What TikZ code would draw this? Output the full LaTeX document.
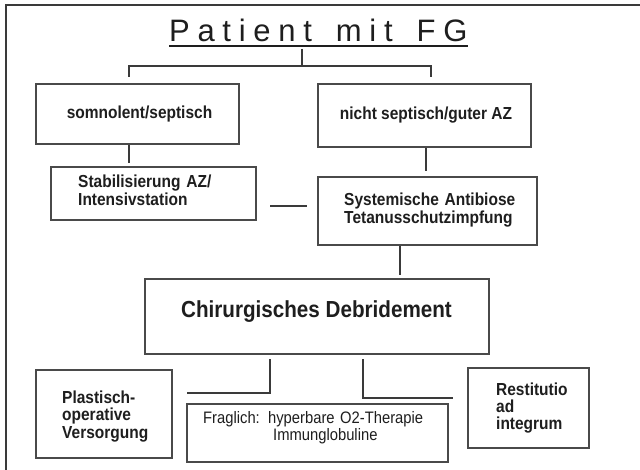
\documentclass[tikz,border=0pt]{standalone}
\usepackage{fontspec}
\setmainfont{Liberation Sans}
\newfontfamily\nfont[FakeStretch=0.89]{Liberation Sans}
\definecolor{ln}{HTML}{3A3A3A}
\definecolor{bx}{HTML}{4A4A4A}
\definecolor{tx}{HTML}{1E1E1E}
\newcommand\tsp{\kern7.7pt}
\begin{document}
\begin{tikzpicture}[x=1pt,y=-1pt,
  box/.style={draw=bx,line width=1.6pt,inner sep=0pt},
  conn/.style={draw=ln,line width=1.4pt},
  txt/.style={text=tx,font=\nfont\bfseries\fontsize{17.4}{17.5}\selectfont,inner sep=0pt},
  mtxt/.style={txt,text width=300pt,align=left,anchor=base west},
  ]
\useasboundingbox (0,0) rectangle (640,470);
\fill[white] (0,0) rectangle (640,470);
\draw[line width=1.5pt,draw=ln] (640,5) -- (6,5) -- (6,470);

% title
\node[anchor=base west,inner sep=0pt,text=tx,font=\fontsize{31}{31}\selectfont] (title) at (169,42)
  {P\tsp a\tsp t\tsp i\tsp e\tsp n\tsp t\tsp{} \tsp m\tsp i\tsp t\tsp{} \tsp F\tsp G};
\draw[line width=2.6pt,draw=tx] ([yshift=-4pt]title.base west) -- ([yshift=-4pt]title.base east);

% boxes
\node[box,minimum width=203pt,minimum height=60pt] (som) at (137.5,114) {};
\node[txt,anchor=base] (somt) at (139.5,119) {somnolent/septisch};

\node[box,minimum width=213pt,minimum height=63pt] (nicht) at (424.5,115.5) {};
\node[txt,anchor=base] (nichtt) at (426,120) {nicht septisch/guter AZ};

\node[box,minimum width=205pt,minimum height=53pt] (stab) at (153.5,193.5) {};
\node[mtxt] (stabt) at (78,188) {Stabilisierung AZ/\\Intensivstation};

\node[box,minimum width=219pt,minimum height=68pt] (sys) at (427.5,211) {};
\node[mtxt] (syst) at (344,206) {Systemische Antibiose\\Tetanusschutzimpfung};

\node[box,minimum width=344pt,minimum height=75pt] (chir) at (317,316.5) {};
\node[txt,anchor=base,font=\nfont\bfseries\fontsize{23.2}{24}\selectfont] (chirt) at (316.5,318) {Chirurgisches Debridement};

\node[box,minimum width=136pt,minimum height=88pt] (plast) at (104,414) {};
\node[mtxt] (plastt) at (62,403) {Plastisch-\\operative\\Versorgung};

\node[box,minimum width=261pt,minimum height=58pt] (frag) at (317.5,433) {};
\node[mtxt,font=\nfont\fontsize{16.6}{17}\selectfont] (fragt) at (203,423) {Fraglich: hyperbare O2-Therapie\\\hspace*{70pt}Immunglobuline};

\node[box,minimum width=121pt,minimum height=80pt] (rest) at (528.5,408) {};
\node[mtxt] (restt) at (496,395) {Restitutio\\ad\\integrum};

% connectors
\coordinate (t1) at (302,49);
\coordinate (t2) at (302,66);
\coordinate (l1) at (129,66);
\coordinate (l2) at (129,77);
\coordinate (r1) at (431,66);
\coordinate (r2) at (431,77);
\draw[conn] (t1) -- (t2);
\draw[conn] (l2) -- (l1) -- (r1) -- (r2);

\coordinate (a1) at (129,163);
\draw[conn] (som.south -| a1) -- (a1);
\coordinate (b1) at (426,171);
\draw[conn] (nicht.south -| b1) -- (b1);

\coordinate (d1) at (270,206);
\coordinate (d2) at (307,206);
\draw[conn] (d1) -- (d2);

\coordinate (c1) at (400,275);
\draw[conn] (sys.south -| c1) -- (c1);

\coordinate (e1) at (270,359);
\coordinate (e2) at (187,393);
\draw[conn] (e1) |- (e2);
\coordinate (f1) at (363,359);
\coordinate (f2) at (453,398);
\draw[conn] (f1) |- (f2);
\end{tikzpicture}
\end{document}
